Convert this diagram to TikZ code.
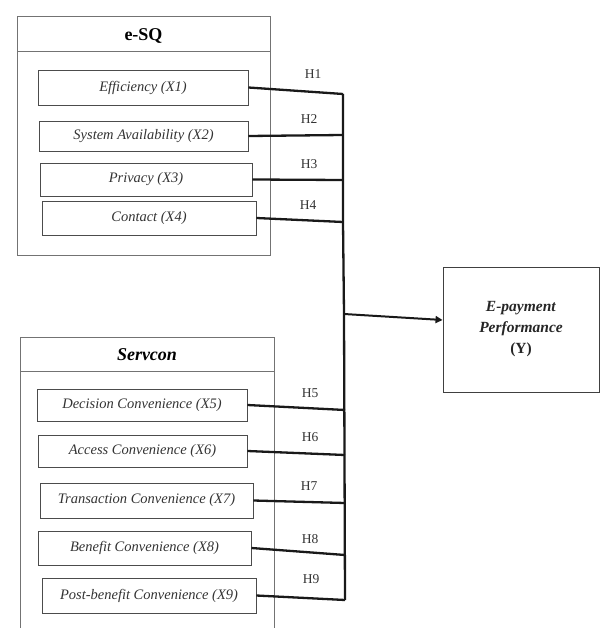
\documentclass[tikz,border=0pt]{standalone}
\usepackage{fontspec}
\setmainfont{Liberation Serif}
\usetikzlibrary{arrows.meta}
\tikzset{
  outerbox/.style={draw=black!55, line width=1pt},
  ibox/.style={draw=black!70, line width=0.9pt, inner sep=0pt, font=\fontsize{14.5}{16}\selectfont\itshape, text=black!80},
  conn/.style={line width=2.3pt, black!90},
  hlab/.style={font=\fontsize{13.5}{15}\selectfont, text=black!80, inner sep=0pt},
}
\begin{document}
\begin{tikzpicture}[x=1pt,y=-1pt]
\useasboundingbox (0,0) rectangle (600,628);
% e-SQ group
\node[outerbox, minimum width=253pt, minimum height=238pt, inner sep=0pt] (esq) at (143.5,136) {};
\draw[black!55, line width=1pt] (17,52) -- (270,52);
\node[font=\fontsize{18}{20}\selectfont\bfseries] (esqt) at (143.5,36) {e-SQ};
% Servcon group
\draw[outerbox] (20,628) -- (20,337) -- (274,337) -- (274,628);
\draw[black!55, line width=1pt] (20,371) -- (274,371);
\node[font=\fontsize{18}{20}\selectfont\bfseries\itshape] (srvt) at (147,355) {Servcon};
% inner boxes
\node[ibox, minimum width=210pt, minimum height=35pt] (x1) at (143,87.5) {Efficiency (X1)};
\node[ibox, minimum width=209pt, minimum height=30pt] (x2) at (143.5,136) {System Availability (X2)};
\node[ibox, minimum width=212pt, minimum height=33pt] (x3) at (146,179.5) {Privacy (X3)};
\node[ibox, minimum width=214pt, minimum height=34pt] (x4) at (149,218) {Contact (X4)};
\node[ibox, minimum width=210pt, minimum height=32pt] (x5) at (142,405) {Decision Convenience (X5)};
\node[ibox, minimum width=209pt, minimum height=32pt] (x6) at (142.5,451) {Access Convenience (X6)};
\node[ibox, minimum width=213pt, minimum height=35pt] (x7) at (146.5,500.5) {Transaction Convenience (X7)};
\node[ibox, minimum width=213pt, minimum height=34pt] (x8) at (144.5,548) {Benefit Convenience (X8)};
\node[ibox, minimum width=214pt, minimum height=35pt] (x9) at (149,595.5) {Post-benefit Convenience (X9)};
% outcome
\node[draw=black!75, line width=0.9pt, minimum width=156pt, minimum height=125pt, align=center,
      font=\fontsize{15.5}{21}\selectfont\bfseries, text=black!85] (y) at (521,329.5)
  {\textit{E-payment}\\\textit{Performance}\\(Y)};
% bus coordinates
\coordinate (b1) at (343,94);
\coordinate (b2) at (343,135);
\coordinate (b3) at (343,180);
\coordinate (b4) at (343,222);
\coordinate (bm) at (344,314);
\coordinate (b5) at (345,410);
\coordinate (b6) at (345,455);
\coordinate (b7) at (345,503);
\coordinate (b8) at (345,555);
\coordinate (b9) at (345,600);
\draw[conn] (b1) -- (b4) -- (bm) -- (b9);
\draw[conn] (x1.east) -- (b1);
\draw[conn] (x2.east) -- (b2);
\draw[conn] (x3.east) -- (b3);
\draw[conn] (x4.east) -- (b4);
\draw[conn] (x5.east) -- (b5);
\draw[conn] (x6.east) -- (b6);
\draw[conn] (x7.east) -- (b7);
\draw[conn] (x8.east) -- (b8);
\draw[conn] (x9.east) -- (b9);
\draw[conn, line width=2pt, -{Triangle[length=7pt,width=7pt]}] (bm) -- ([yshift=9.5pt]y.west);
% labels
\node[hlab] (h1) at (313,74) {H1};
\node[hlab] (h2) at (309,119) {H2};
\node[hlab] (h3) at (309,164) {H3};
\node[hlab] (h4) at (308,205) {H4};
\node[hlab] (h5) at (310,393) {H5};
\node[hlab] (h6) at (310,437) {H6};
\node[hlab] (h7) at (309,486) {H7};
\node[hlab] (h8) at (310,539) {H8};
\node[hlab] (h9) at (311,579) {H9};
\end{tikzpicture}
\end{document}
